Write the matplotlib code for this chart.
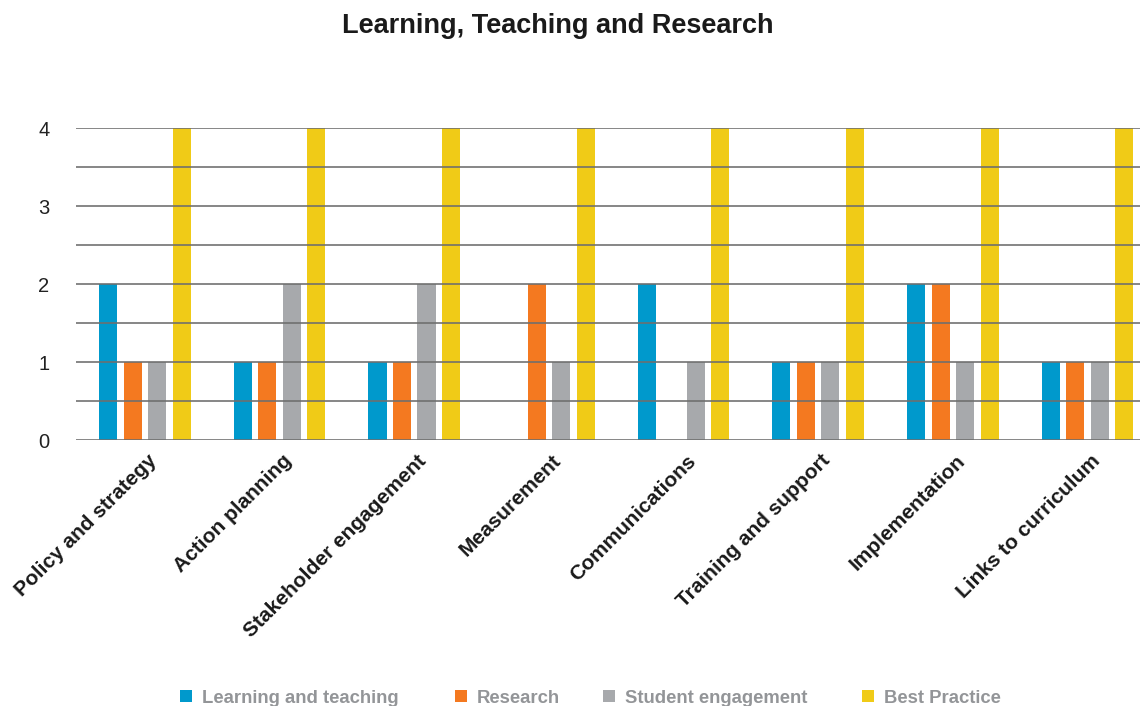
import matplotlib
matplotlib.use("Agg")
import matplotlib.pyplot as plt
import numpy as np
from matplotlib.ticker import MultipleLocator
from matplotlib.patches import Rectangle

plt.rcParams['font.family'] = ['Liberation Sans', 'DejaVu Sans']

categories = ["Policy and strategy", "Action planning", "Stakeholder engagement",
              "Measurement", "Communications", "Training and support",
              "Implementation", "Links to curriculum"]
series_names = ["Learning and teaching", "Research", "Student engagement", "Best Practice"]
learning_teaching = [2, 1, 1, 0, 2, 1, 2, 1]
research = [1, 1, 1, 2, 0, 1, 2, 1]
student_engagement = [1, 2, 2, 1, 1, 1, 1, 1]
best_practice = [4, 4, 4, 4, 4, 4, 4, 4]
colors = ["#0099CC", "#F47920", "#A7A9AC", "#F0CB17"]

W, H = 1140, 706
fig = plt.figure(figsize=(W/100, H/100), dpi=100)
ax = fig.add_axes([76/W, 1-440/H, 1-76/W, (440-128)/H])

x = np.arange(len(categories))
width = 0.134
step = 0.182
all_series = [learning_teaching, research, student_engagement, best_practice]
for i, (vals, c, name) in enumerate(zip(all_series, colors, series_names)):
    ax.bar(x + (i - 1.5) * step, vals, width, color=c, label=name, zorder=1)

ax.set_xlim(-0.512, 7.39)
ax.set_ylim(0, 4)
ax.yaxis.set_major_locator(MultipleLocator(1))
for yv in np.arange(0, 4.01, 0.5):
    ax.axhline(yv, color="#6e6e6e", lw=1.3, zorder=3, alpha=0.9)
for s in ax.spines.values():
    s.set_visible(False)
ax.tick_params(axis='y', which='both', length=0, labelsize=14.5, colors="#222222", pad=19)
ax.tick_params(axis='x', length=0, pad=8)
ax.set_xticks(x + 0.02)
ax.set_xticklabels(categories, rotation=45, ha='right', rotation_mode='anchor',
                   fontsize=15, fontweight='bold', color="#1a1a1a")

fig.text(0.489, 0.963, "Learning, Teaching and Research", ha='center', va='center',
         fontsize=19.5, fontweight='bold', color="#1a1a1a")

# legend (manually positioned entries to match reference spacing)
legend_x = [180, 455, 603, 862]
ly = 696
for lx, c, name in zip(legend_x, colors, series_names):
    fig.patches.append(Rectangle((lx/W, 1-(ly+6)/H), 12/W, 12/H, transform=fig.transFigure,
                                 facecolor=c, edgecolor='none'))
    fig.text((lx+22)/W, 1-(ly+2.5)/H, name, ha='left', va='center', fontsize=13.3,
             fontweight='bold', color="#939598")

fig.savefig("out.png", dpi=100)
